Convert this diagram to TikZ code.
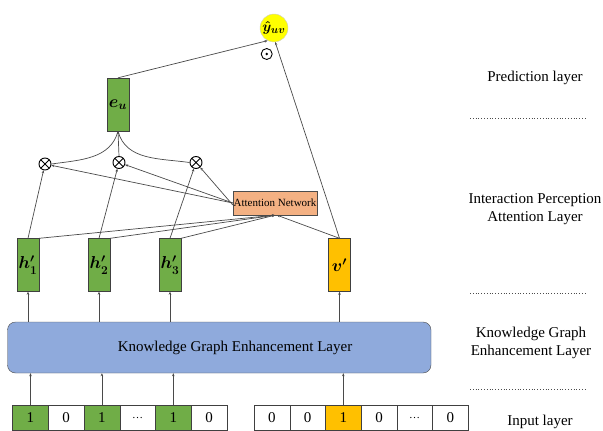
\documentclass[tikz,border=0pt]{standalone}
\usepackage{fontspec}
\setmainfont{Liberation Serif}
\usetikzlibrary{positioning,arrows.meta,calc}
\definecolor{leaf}{HTML}{70AD47}
\definecolor{gold}{HTML}{FFC000}
\definecolor{peach}{HTML}{F4B183}
\definecolor{sky}{HTML}{8FAADC}
\definecolor{lemon}{HTML}{FFFF00}
\definecolor{ink}{HTML}{4A4A4A}
\tikzset{
  vec/.style={draw=black!75, fill=leaf, minimum width=22pt, minimum height=53pt, inner sep=0pt, font=\fontsize{17}{19}\selectfont\boldmath},
  item/.style={vec, fill=gold},
  cell/.style={draw=black!75, fill=white, minimum width=35.7pt, minimum height=25pt, inner sep=0pt, font=\fontsize{15}{17}\selectfont},
  on/.style={cell, fill=leaf},
  pick/.style={cell, fill=gold},
  op/.style={circle, draw=black, line width=0.9pt, minimum size=12pt, inner sep=0pt,
    path picture={\draw[line width=0.9pt] (path picture bounding box.north west) -- (path picture bounding box.south east)
      (path picture bounding box.south west) -- (path picture bounding box.north east);}},
  dotop/.style={circle, draw=black, line width=0.9pt, minimum size=11pt, inner sep=0pt,
    path picture={\fill (path picture bounding box.center) circle (1.4pt);}},
  attn/.style={draw=black!70, fill=peach, minimum width=84pt, minimum height=24pt, inner sep=0pt, font=\fontsize{11}{13}\selectfont},
  kgbox/.style={draw=black!70, fill=sky, rounded corners=8pt, minimum width=423.5pt, minimum height=51pt, inner sep=0pt},
  layer/.style={align=center, font=\fontsize{15}{17.5}\selectfont},
  sep/.style={dotted, line width=0.8pt, black!70},
  arr/.style={-{Stealth[length=3pt,width=2.5pt]}, ink, line width=0.7pt},
  link/.style={ink, line width=0.7pt}}
\newcommand{\gapdots}{\raisebox{-2pt}{\fontsize{11}{13}\selectfont\textellipsis}}

\begin{document}
\begin{tikzpicture}[x=1pt, y=-1pt]
\useasboundingbox (0,0) rectangle (603,431);
% prediction
\node[circle, fill=lemon, draw=black!20, minimum size=28pt, inner sep=0pt, font=\fontsize{15}{17}\selectfont\boldmath] (yuv) at (274,28) {$\hat{y}_{uv}$};
\node[dotop] (dot) at (266.7,54) {};
\node[vec] (eu) at (118,104.5) {$e_u$};
% interaction perception attention
\node[op] (m1) at (45,164) {};
\node[op] (m2) at (119,162.5) {};
\node[op] (m3) at (196,162.5) {};
\node[attn] (att) at (275,203) {Attention Network};
\node[vec] (h1) at (28,265) {$h'_1$};
\node[vec] (h2) at (99,265) {$h'_2$};
\node[vec] (h3) at (170,265) {$h'_3$};
\node[item] (v) at (339.5,265) {$v'$};
% knowledge graph enhancement
\node[kgbox] (kg) at (219.25,347.5) {};
\node[layer] (kgtext) at (235,348) {Knowledge Graph Enhancement Layer};
% input
\node[on] (c1) at (30.5,417.5) {1};
\node[cell] (c2) at (66.2,417.5) {0};
\node[on] (c3) at (101.9,417.5) {1};
\node[cell] (c4) at (137.6,417.5) {\gapdots};
\node[on] (c5) at (173.3,417.5) {1};
\node[cell] (c6) at (209,417.5) {0};
\node[cell] (d1) at (271.9,417.5) {0};
\node[cell] (d2) at (307.6,417.5) {0};
\node[pick] (d3) at (343.3,417.5) {1};
\node[cell] (d4) at (379,417.5) {0};
\node[cell] (d5) at (414.7,417.5) {\gapdots};
\node[cell] (d6) at (450.4,417.5) {0};
% layer names
\node[layer] (lpred) at (535,78) {Prediction layer};
\node[layer] (lattn) at (535,209) {Interaction Perception\\Attention Layer};
\node[layer] (lkg) at (531,343) {Knowledge Graph\\Enhancement Layer};
\node[layer] (lin) at (540,422) {Input layer};
\draw[sep] (470,118) -- (586,118);
\draw[sep] (470,293) -- (586,293);
\draw[sep] (470,389) -- (586,389);
% connectors
\draw[arr] (c1.north) -- (c1.north |- kg.south); \draw[arr] (c3.north) -- (c3.north |- kg.south);
\draw[arr] (c5.north) -- (c5.north |- kg.south); \draw[arr] (d3.north) -- (d3.north |- kg.south);
\draw[arr] (h1.south |- kg.north) -- (h1.south); \draw[arr] (h2.south |- kg.north) -- (h2.south);
\draw[arr] (h3.south |- kg.north) -- (h3.south); \draw[arr] (v.south |- kg.north) -- (v.south);
\draw[arr] (h1.north east) -- (att.south); \draw[arr] (h2.north east) -- (att.south);
\draw[arr] (h3.north east) -- (att.south); \draw[arr] (v.north) -- ([xshift=2pt]att.south);
\draw[arr] (h1.north) -- (m1); \draw[arr] (h2.north) -- (m2); \draw[arr] (h3.north) -- (m3);
\draw[arr] (att.west) -- (m1); \draw[arr] (att.west) -- (m2); \draw[arr] ([yshift=-2pt]att.west) -- (m3);
\draw[link] (m1.east) to[out=8, in=255] (eu.south); \draw[link] (m3.west) to[out=172, in=285] (eu.south);
\draw[arr] (m2.north) -- (eu.south);
\draw[arr] (eu.north) -- (yuv.243); \draw[arr] (v.north) -- (yuv.275);
\end{tikzpicture}
\end{document}
